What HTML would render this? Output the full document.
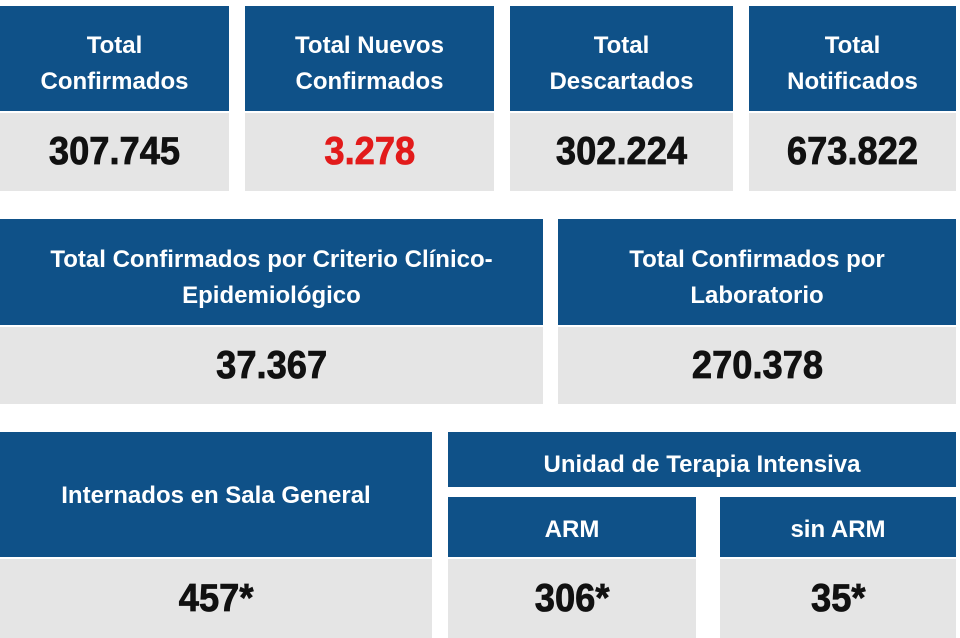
<!DOCTYPE html>
<html><head><meta charset="utf-8"><style>
body{margin:0;width:960px;height:638px;background:#fff;position:relative;overflow:hidden;font-family:"Liberation Sans",Arial,sans-serif;}
.h{position:absolute;background:#0f5188;color:#fff;font-weight:bold;font-size:24px;line-height:36px;display:flex;align-items:center;justify-content:center;text-align:center;box-sizing:border-box;}
.t{padding-top:11px;}
.g{position:absolute;background:#e5e5e5;color:#111;font-weight:bold;font-size:39px;display:flex;align-items:center;justify-content:center;}
.g span{display:inline-block;transform:scaleX(0.93);-webkit-text-stroke:0.8px #111;}
.h span{display:inline-block;}
</style></head><body>
<div class="h t" style="left:0;top:6px;width:229px;height:105px"><span>Total<br>Confirmados</span></div>
<div class="g" style="left:0;top:113px;width:229px;height:78px"><span>307.745</span></div>
<div class="h t" style="left:245px;top:6px;width:249px;height:105px"><span>Total Nuevos<br>Confirmados</span></div>
<div class="g" style="left:245px;top:113px;width:249px;height:78px"><span style="color:#e21b1b;-webkit-text-stroke:0.8px #e21b1b">3.278</span></div>
<div class="h t" style="left:510px;top:6px;width:223px;height:105px"><span>Total<br>Descartados</span></div>
<div class="g" style="left:510px;top:113px;width:223px;height:78px"><span>302.224</span></div>
<div class="h t" style="left:749px;top:6px;width:207px;height:105px"><span>Total<br>Notificados</span></div>
<div class="g" style="left:749px;top:113px;width:207px;height:78px"><span>673.822</span></div>

<div class="h t" style="left:0;top:219px;width:543px;height:106px"><span>Total Confirmados por Criterio Clínico-<br>Epidemiológico</span></div>
<div class="g" style="left:0;top:327px;width:543px;height:77px"><span>37.367</span></div>
<div class="h t" style="left:558px;top:219px;width:398px;height:106px"><span>Total Confirmados por<br>Laboratorio</span></div>
<div class="g" style="left:558px;top:327px;width:398px;height:77px"><span>270.378</span></div>

<div class="h" style="left:0;top:432px;width:432px;height:125px;padding-top:3px"><span>Internados en Sala General</span></div>
<div class="g" style="left:0;top:559px;width:432px;height:79px"><span>457*</span></div>
<div class="h" style="left:448px;top:432px;width:508px;height:55px;padding-top:10px"><span>Unidad de Terapia Intensiva</span></div>
<div class="h" style="left:448px;top:497px;width:248px;height:60px;padding-top:6px"><span>ARM</span></div>
<div class="g" style="left:448px;top:559px;width:248px;height:79px"><span>306*</span></div>
<div class="h" style="left:720px;top:497px;width:236px;height:60px;padding-top:6px"><span>sin ARM</span></div>
<div class="g" style="left:720px;top:559px;width:236px;height:79px"><span>35*</span></div>
</body></html>
